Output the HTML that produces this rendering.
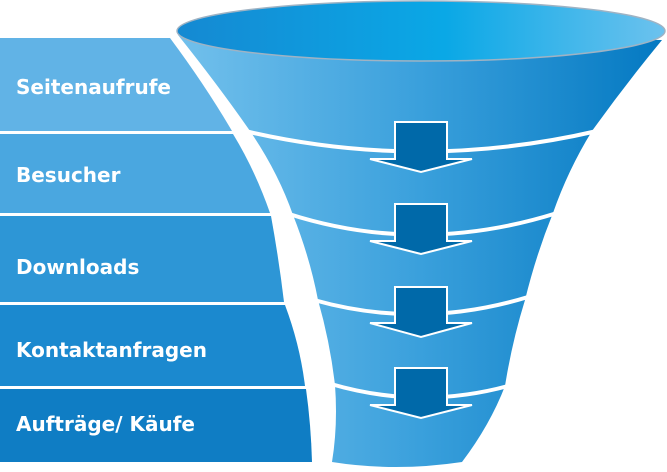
<!DOCTYPE html>
<html><head><meta charset="utf-8"><style>
html,body{margin:0;padding:0;background:#fff;width:667px;height:472px;overflow:hidden}
svg{display:block}
text{font-family:"DejaVu Sans","Liberation Sans",sans-serif;font-weight:bold;font-size:20px;fill:#fff}
</style></head><body>
<svg width="667" height="472" viewBox="0 0 667 472">
<defs>
<linearGradient id="f" x1="0" x2="1" y1="0" y2="0">
<stop offset="0" stop-color="#72c0ec"/><stop offset="0.5" stop-color="#3aa0dc"/><stop offset="1" stop-color="#0479c2"/>
</linearGradient>
<linearGradient id="e" x1="0" x2="1" y1="0" y2="0">
<stop offset="0" stop-color="#1589d2"/><stop offset="0.55" stop-color="#0aa8e6"/><stop offset="1" stop-color="#6cc2ee"/>
</linearGradient>
</defs>
<path d="M0,38 L170,38 Q205,85 232,131 L0,131Z" fill="#61b3e6"/>
<path d="M0,134 L233,134 Q255,170 270,213 L0,213Z" fill="#4aa7e0"/>
<path d="M0,216 L271,216 Q279,260 284,302 L0,302Z" fill="#2d96d6"/>
<path d="M0,305 L285,305 Q300,345 305,386 L0,386Z" fill="#1b89cf"/>
<path d="M0,389 L306,389 Q311,425 312,462 L0,462Z" fill="#0f7dc4"/>
<path d="M178,35 Q218,85 250,131 Q278,172 293,215 Q310,258 318,300 Q330,342 335,385 Q338,425 332,462 Q395,472 462,462 Q490,425 505,386 Q512,342 525,300 Q536,255 553,213 Q568,170 592,131 Q625,85 662,40 Z" fill="url(#f)"/>
<g fill="none" stroke="#fff" stroke-width="4">
<path d="M245,131 Q420,172 597,131"/>
<path d="M289,214 Q420,256 557,213"/>
<path d="M314,300 Q420,330 528,297"/>
<path d="M331,384 Q420,410 508,386"/>
</g>
<ellipse cx="421" cy="31" rx="244" ry="30" fill="url(#e)" stroke="#9fb3c4" stroke-width="1.5"/>
<g fill="#0069a9" stroke="#fff" stroke-width="2">
<path d="M395,122 L447,122 L447,159 L472,159 L421,172 L370,159 L395,159Z"/>
<path d="M395,204 L447,204 L447,241 L472,241 L421,254 L370,241 L395,241Z"/>
<path d="M395,287 L447,287 L447,323 L472,323 L421,337 L370,323 L395,323Z"/>
<path d="M395,368 L447,368 L447,405 L472,405 L421,418 L370,405 L395,405Z"/>
</g>
<text x="16" y="94">Seitenaufrufe</text>
<text x="16" y="182">Besucher</text>
<text x="16" y="274">Downloads</text>
<text x="16" y="357">Kontaktanfragen</text>
<text x="16" y="431">Aufträge/ Käufe</text>
</svg>
</body></html>
